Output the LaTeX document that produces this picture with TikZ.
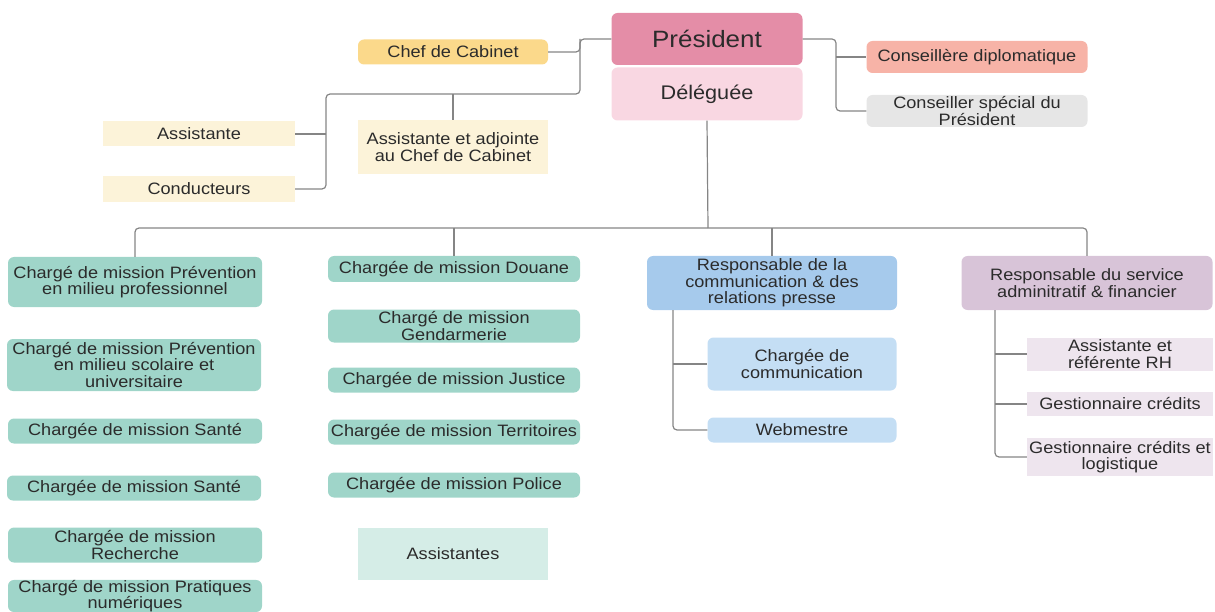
\documentclass[tikz,border=0pt]{standalone}
\usepackage{fontspec}
\setmainfont[FakeStretch=1.1]{Liberation Sans}
\usetikzlibrary{positioning}
\definecolor{rosefonce}{HTML}{E48DA7}
\definecolor{roseclair}{HTML}{F9D7E2}
\definecolor{orange}{HTML}{FBD98B}
\definecolor{saumon}{HTML}{F7B3A7}
\definecolor{grisclair}{HTML}{E6E6E6}
\definecolor{creme}{HTML}{FCF3D9}
\definecolor{vert}{HTML}{9FD5C9}
\definecolor{vertclair}{HTML}{D5EDE7}
\definecolor{bleu}{HTML}{A6CAEC}
\definecolor{bleuclair}{HTML}{C4DEF4}
\definecolor{mauve}{HTML}{D8C4D8}
\definecolor{mauveclair}{HTML}{EEE5EE}
\definecolor{texte}{HTML}{2B2B2B}
\definecolor{trait}{HTML}{858585}
\tikzset{
	poste/.style = {align=center, inner sep=0pt, text centered, text=texte,
		font=\fontsize{16.5}{16.5}\selectfont},
	poste_r/.style = {poste, rounded corners=6pt},% boite arrondie
	poste_c/.style = {poste, rounded corners=0pt},% boite carree
	large/.style = {minimum width=254, minimum height=#1},
	moyen/.style = {minimum width=190, minimum height=#1},
	lien/.style = {draw=trait, line width=1.2pt, rounded corners=4pt}% trait de liaison
}
\begin{document}
\begin{tikzpicture}[x=1pt, y=-1pt]
	\useasboundingbox (0,0) rectangle (1215,612);
	% tete
	\node [poste_r, fill=rosefonce, minimum width=191, minimum height=52,
		font=\fontsize{23.6}{24}\selectfont] (pres) at (707,39) {Président};
	\node [poste_r, fill=roseclair, minimum width=191, minimum height=53,
		font=\fontsize{19.7}{20}\selectfont] (deleg) at (707,94) {Déléguée};
	% cabinet
	\node [poste_r, fill=orange, moyen=25] (chef) at (453,52) {Chef de Cabinet};
	\node [poste_c, fill=creme, moyen=54] (adj) at (453,147) {Assistante et adjointe\\au Chef de Cabinet};
	\node [poste_c, fill=creme, minimum width=192, minimum height=25] (asst) at (199,134) {Assistante};
	\node [poste_c, fill=creme, minimum width=192, minimum height=26] (cond) at (199,189) {Conducteurs};
	% conseillers
	\node [poste_r, fill=saumon, minimum width=221, minimum height=32] (diplo) at (977,57) {Conseillère diplomatique};
	\node [poste_r, fill=grisclair, minimum width=221, minimum height=32] (spec) at (977,111) {Conseiller spécial du\\Président};
	% charges de mission, colonne 1
	\node [poste_r, fill=vert, large=50] (prevpro) at (135,282) {Chargé de mission Prévention\\en milieu professionnel};
	\node [poste_r, fill=vert, large=52] (prevsco) at (134,365) {Chargé de mission Prévention\\en milieu scolaire et\\universitaire};
	\node [poste_r, fill=vert, large=25] (sante) at (135,431) {Chargée de mission Santé};
	\node [poste_r, fill=vert, large=25] (santeb) at (134,488) {Chargée de mission Santé};
	\node [poste_r, fill=vert, large=35] (rech) at (135,545) {Chargée de mission\\Recherche};
	\node [poste_r, fill=vert, large=32] (numer) at (135,596) {Chargé de mission Pratiques\\numériques};
	% charges de mission, colonne 2
	\node [poste_r, fill=vert, minimum width=252, minimum height=26] (douane) at (454,269) {Chargée de mission Douane};
	\node [poste_r, fill=vert, minimum width=252, minimum height=33] (gend) at (454,326) {Chargé de mission\\Gendarmerie};
	\node [poste_r, fill=vert, minimum width=252, minimum height=25] (just) at (454,380) {Chargée de mission Justice};
	\node [poste_r, fill=vert, minimum width=252, minimum height=25] (terr) at (454,432) {Chargée de mission Territoires};
	\node [poste_r, fill=vert, minimum width=252, minimum height=25] (police) at (454,485) {Chargée de mission Police};
	\node [poste_c, fill=vertclair, moyen=52] (assts) at (453,554) {Assistantes};
	% communication
	\node [poste_r, fill=bleu, minimum width=250, minimum height=54] (rescom) at (772,283) {Responsable de la\\communication \& des\\relations presse};
	\node [poste_r, fill=bleuclair, minimum width=189, minimum height=53] (chcom) at (802,364) {Chargée de\\communication};
	\node [poste_r, fill=bleuclair, minimum width=189, minimum height=25] (web) at (802,430) {Webmestre};
	% administration
	\node [poste_r, fill=mauve, minimum width=251, minimum height=54] (resadm) at (1087,283) {Responsable du service\\adminitratif \& financier};
	\node [poste_c, fill=mauveclair, minimum width=186, minimum height=33] (rh) at (1120,354) {Assistante et\\référente RH};
	\node [poste_c, fill=mauveclair, minimum width=186, minimum height=24] (gc) at (1120,404) {Gestionnaire crédits};
	\node [poste_c, fill=mauveclair, minimum width=186, minimum height=38] (gcl) at (1120,457) {Gestionnaire crédits et\\logistique};
	% liaisons
	\coordinate (jg) at (580,39);
	\coordinate (b1) at (580,94);
	\coordinate (b2) at (326,94);
	\coordinate (jd) at (836,39);
	\coordinate (bus) at (708,228);
	\coordinate (comtr) at (673,310);
	\coordinate (adtr) at (995,310);
	\draw[lien] (chef.east) -| (jg) -- (pres.west);
	\draw[lien] (jg) -- (b1) -- (b2) |- (cond.east);
	\draw[lien] (asst.east) -- (asst.east -| b2);
	\draw[lien] (adj.north) -- (adj.north |- b1);
	\draw[lien] (pres.east) -- (jd) |- (spec.west);
	\draw[lien] (jd |- diplo.west) -- (diplo.west);
	\draw[lien] (deleg.south) -- (bus);
	\draw[lien] (prevpro.north) |- (bus) -| (resadm.north);
	\draw[lien] (douane.north) -- (douane.north |- bus);
	\draw[lien] (rescom.north) -- (rescom.north |- bus);
	\draw[lien] (comtr) |- (web.west);
	\draw[lien] (comtr |- chcom.west) -- (chcom.west);
	\draw[lien] (adtr) |- (gcl.west);
	\draw[lien] (adtr |- rh.west) -- (rh.west);
	\draw[lien] (adtr |- gc.west) -- (gc.west);
\end{tikzpicture}
\end{document}
